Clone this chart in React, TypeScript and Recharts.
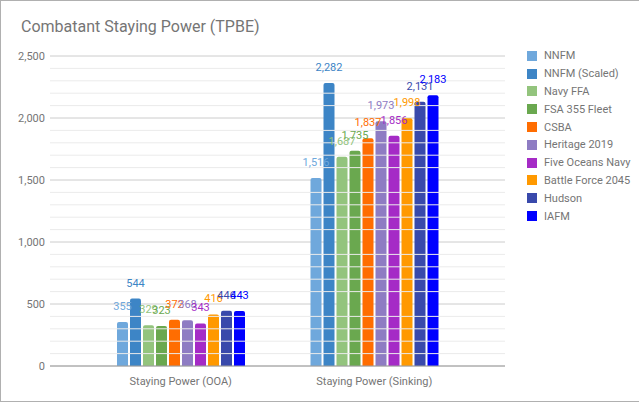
import React from 'react';
import {
  Bar,
  BarChart,
  CartesianGrid,
  LabelList,
  ReferenceLine,
  XAxis,
  YAxis,
} from 'recharts';

const categories = ['Staying Power (OOA)', 'Staying Power (Sinking)'];

const seriesNames = [
  'NNFM',
  'NNFM (Scaled)',
  'Navy FFA',
  'FSA 355 Fleet',
  'CSBA',
  'Heritage 2019',
  'Five Oceans Navy',
  'Battle Force 2045',
  'Hudson',
  'IAFM',
];

const seriesColors = [
  '#6fa8dc',
  '#3d85c6',
  '#93c47d',
  '#6aa84f',
  '#ff6d01',
  '#8e7cc3',
  '#a52bc6',
  '#ff9900',
  '#3949ab',
  '#0000ff',
];

// one array per category, same order as seriesNames
const ooaValues = [355, 544, 329, 323, 372, 368, 343, 416, 446, 443];
const sinkingValues = [1516, 2282, 1687, 1735, 1837, 1973, 1856, 1998, 2131, 2183];

const majorTicks = [0, 500, 1000, 1500, 2000, 2500];
const minorTicks = [
  100, 200, 300, 400, 600, 700, 800, 900, 1100, 1200, 1300, 1400, 1600, 1700,
  1800, 1900, 2100, 2200, 2300, 2400,
];

const valueRows = [ooaValues, sinkingValues];
const data = categories.map((name, c) => {
  const row: Record<string, string | number> = { name };
  seriesNames.forEach((s, i) => {
    row[s] = valueRows[c][i];
  });
  return row;
});

const textColor = '#757575';
const font = 'Roboto, Arial, sans-serif';

function LegendBox() {
  return (
    <div
      style={{
        position: 'absolute',
        left: 526,
        top: 46,
        fontFamily: font,
        fontSize: 11,
        color: textColor,
      }}
    >
      {seriesNames.map((s, i) => (
        <div
          key={s}
          style={{ display: 'flex', alignItems: 'center', height: 17.8 }}
        >
          <span
            style={{
              width: 10,
              height: 10,
              background: seriesColors[i],
              display: 'inline-block',
              marginRight: 7,
            }}
          />
          <span>{s}</span>
        </div>
      ))}
    </div>
  );
}

export default function App() {
  return (
    <div
      style={{
        position: 'absolute',
        left: 0,
        top: 0,
        width: 639,
        height: 402,
        boxSizing: 'border-box',
        borderLeft: '1px solid #b0b0b0',
        borderTop: '1px solid #b0b0b0',
        borderBottom: '1px solid #b0b0b0',
        background: '#fff',
        overflow: 'hidden',
      }}
    >
      <div
        style={{
          position: 'absolute',
          left: 20,
          top: 16,
          fontFamily: font,
          fontSize: 16,
          lineHeight: '20px',
          color: textColor,
        }}
      >
        Combatant Staying Power (TPBE)
      </div>
      <div style={{ position: 'absolute', left: -1, top: -1 }}>
        <BarChart
          width={639}
          height={402}
          data={data}
          margin={{ top: 56, right: 134, left: 6, bottom: 6 }}
          barGap={2}
          barSize={11}
        >
          <CartesianGrid vertical={false} stroke="#cccccc" />
          {minorTicks.map((v) => (
            <ReferenceLine key={v} y={v} stroke="#ebebeb" />
          ))}
          <XAxis
            dataKey="name"
            height={30}
            padding={{ left: 34, right: 34 }}
            axisLine={{ stroke: '#9e9e9e' }}
            tickLine={false}
            tickMargin={5}
            tick={{ fontSize: 11, fill: textColor, fontFamily: font }}
          />
          <YAxis
            domain={[0, 2500]}
            ticks={majorTicks}
            width={44}
            axisLine={false}
            tickLine={false}
            tickSize={0}
            tickMargin={5}
            tick={{ fontSize: 11, fill: textColor, fontFamily: font }}
            tickFormatter={(v: number) => v.toLocaleString('en-US')}
          />
          {seriesNames.map((s, i) => (
            <Bar
              key={s}
              dataKey={s}
              fill={seriesColors[i]}
              radius={[2, 2, 0, 0]}
              isAnimationActive={false}
            >
              <LabelList
                dataKey={s}
                position="top"
                offset={12}
                fill={seriesColors[i]}
                fontSize={11}
                fontFamily={font}
                formatter={(v: number) => v.toLocaleString('en-US')}
              />
            </Bar>
          ))}
        </BarChart>
      </div>
      <LegendBox />
    </div>
  );
}
